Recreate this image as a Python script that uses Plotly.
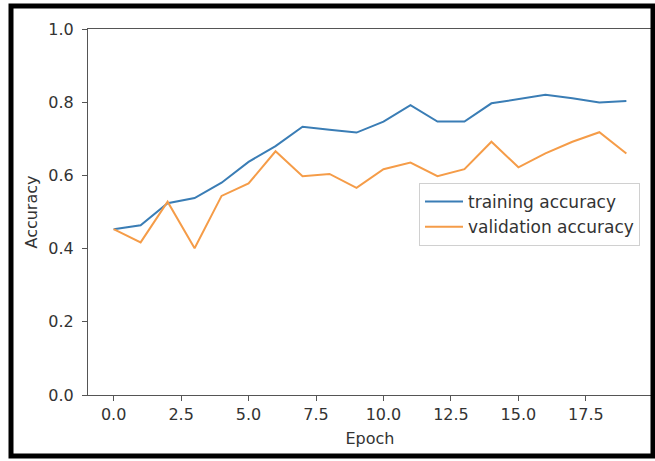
import plotly.graph_objects as go

epochs = list(range(20))
training_accuracy = [0.453, 0.464, 0.524, 0.538, 0.580, 0.637, 0.680, 0.733, 0.725, 0.717,
                     0.747, 0.792, 0.747, 0.747, 0.797, 0.809, 0.820, 0.811, 0.799, 0.803]
validation_accuracy = [0.453, 0.417, 0.528, 0.401, 0.544, 0.578, 0.666, 0.598, 0.604, 0.566,
                       0.617, 0.635, 0.598, 0.617, 0.692, 0.622, 0.660, 0.692, 0.718, 0.660]
x_ticks = [0, 2.5, 5, 7.5, 10, 12.5, 15, 17.5]
x_tick_labels = ["0.0", "2.5", "5.0", "7.5", "10.0", "12.5", "15.0", "17.5"]
y_ticks = [0, 0.2, 0.4, 0.6, 0.8, 1.0]
y_tick_labels = ["0.0", "0.2", "0.4", "0.6", "0.8", "1.0"]

FONT = "DejaVu Sans"
fig = go.Figure()
fig.add_trace(go.Scatter(x=epochs, y=training_accuracy, mode="lines",
                         name="training accuracy",
                         line=dict(color="#3a7db5", width=2)))
fig.add_trace(go.Scatter(x=epochs, y=validation_accuracy, mode="lines",
                         name="validation accuracy",
                         line=dict(color="#f59c48", width=2)))

W, H = 655, 461
L, R, T, B = 88, 3, 29, 66
pw, ph = W - L - R, H - T - B

def px(x):
    return (x - L) / pw

def py(y):
    return (H - B - y) / ph

fig.update_layout(
    width=W, height=H,
    margin=dict(l=L, r=R, t=T, b=B),
    paper_bgcolor="white", plot_bgcolor="white",
    font=dict(family=FONT, size=16, color="#333333"),
    showlegend=True,
    legend=dict(x=px(419), y=py(183), xanchor="left", yanchor="top",
                bgcolor="white", bordercolor="#d0d0d0", borderwidth=1,
                font=dict(family=FONT, size=17, color="#333333"),
                tracegroupgap=0, itemwidth=38),
    xaxis=dict(range=[-0.95, 19.95], tickvals=x_ticks, ticktext=x_tick_labels,
               showgrid=False, zeroline=False, showline=True, mirror=True,
               linecolor="#555555", linewidth=1, ticks="outside", ticklen=5,
               tickcolor="#555555",
               title=dict(text="Epoch", standoff=9, font=dict(family=FONT, size=16))),
    yaxis=dict(range=[0, 1], tickvals=y_ticks, ticktext=y_tick_labels,
               showgrid=False, zeroline=False, showline=True, mirror=True,
               linecolor="#555555", linewidth=1, ticks="outside", ticklen=5,
               tickcolor="#555555", ticklabelstandoff=5,
               title=dict(text="Accuracy", standoff=6, font=dict(family=FONT, size=16))),
)

# outer black frame of the screenshot
fig.add_shape(type="rect", xref="paper", yref="paper",
              x0=px(11), x1=px(653), y0=py(456), y1=py(6),
              line=dict(color="black", width=5), fillcolor="rgba(0,0,0,0)",
              layer="above")

fig.write_html("out.html", config={"displayModeBar": False},
               post_script="document.body.style.margin='0';")
